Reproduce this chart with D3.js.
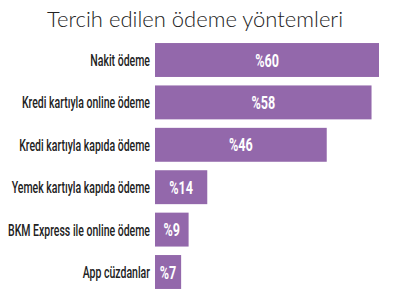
<!DOCTYPE html>
<html lang="tr">
<head>
<meta charset="UTF-8">
<title>Tercih edilen ödeme yöntemleri</title>
<script src="https://d3js.org/d3.v7.min.js"></script>
<style>
  body { margin: 0; background: #fff; }
  .title { font-family: Lato, "Open Sans", sans-serif; font-weight: 300; font-size: 22px; fill: #222; }
  .cat { font-family: Roboto, "DejaVu Sans", sans-serif; font-weight: 500; font-size: 17px; fill: #222; }
  .val { font-family: Roboto, "DejaVu Sans", sans-serif; font-weight: 700; font-size: 18px; fill: #fff; }
</style>
</head>
<body>
<svg id="chart" width="393" height="304"></svg>
<script>
  const categories = [
    "Nakit ödeme",
    "Kredi kartıyla online ödeme",
    "Kredi kartıyla kapıda ödeme",
    "Yemek kartıyla kapıda ödeme",
    "BKM Express ile online ödeme",
    "App cüzdanlar"
  ];
  const values = [60, 58, 46, 14, 9, 7];
  const titleText = "Tercih edilen ödeme yöntemleri";

  const svg = d3.select("#chart");

  const x = d3.scaleLinear().domain([0, 60]).range([155, 379]);
  const y = d3.scaleBand().domain(categories).range([38.8, 293.2])
    .paddingInner(0.2).paddingOuter(0.1);

  svg.append("text")
    .attr("class", "title")
    .attr("x", 195)
    .attr("y", 27)
    .attr("text-anchor", "middle")
    .text(titleText);

  const rows = svg.selectAll(".row")
    .data(categories.map((c, i) => ({ c, v: values[i] })))
    .enter().append("g");

  rows.append("rect")
    .attr("x", x(0))
    .attr("y", d => y(d.c))
    .attr("width", d => x(d.v) - x(0))
    .attr("height", y.bandwidth())
    .attr("fill", "#9368ab");

  const cats = rows.append("text")
    .attr("class", "cat")
    .attr("text-anchor", "end")
    .text(d => d.c);

  // squeeze labels to a condensed look: longest label is ~142px wide
  const maxW = d3.max(cats.nodes(), n => n.getComputedTextLength());
  const squeeze = 142 / maxW;

  cats.attr("transform", d => `translate(150,${y(d.c) + y.bandwidth() / 2 + 6}) scale(${squeeze},1)`);

  rows.append("text")
    .attr("class", "val")
    .attr("text-anchor", "middle")
    .attr("transform", d => `translate(${(x(0) + x(d.v)) / 2},${y(d.c) + y.bandwidth() / 2 + 6.5}) scale(0.7,1)`)
    .text(d => "%" + d.v);
</script>
</body>
</html>
